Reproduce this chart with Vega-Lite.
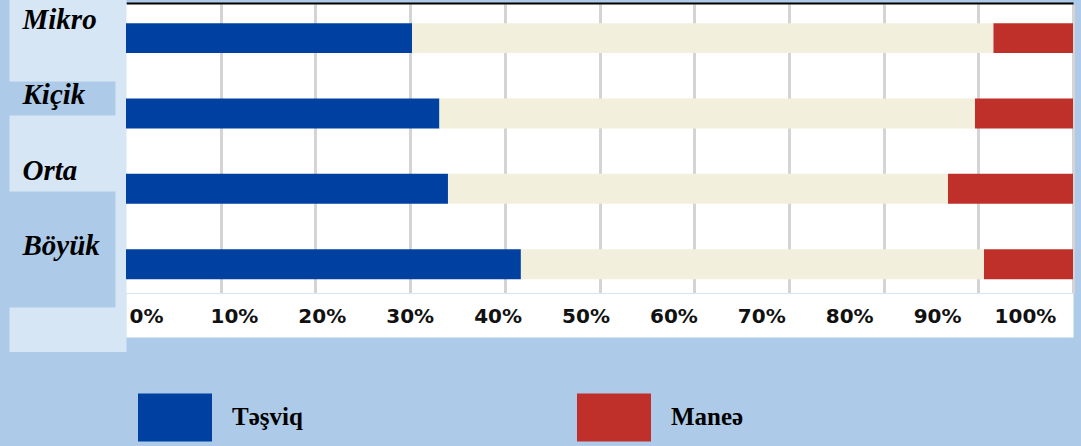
{
  "$schema": "https://vega.github.io/schema/vega-lite/v6.json",
  "width": 947,
  "height": 289,
  "autosize": {"type": "none"},
  "padding": {"left": 126, "top": 4, "right": 8, "bottom": 153},
  "background": "#adcbe8",
  "config": {"view": {"fill": "white", "stroke": null}},
  "data": {
    "values": [
      {"size": "Mikro", "kind": "Təşviq", "share": 30.2},
      {"size": "Mikro", "kind": "Neytral", "share": 61.4},
      {"size": "Mikro", "kind": "Maneə", "share": 8.4},
      {"size": "Kiçik", "kind": "Təşviq", "share": 33.1},
      {"size": "Kiçik", "kind": "Neytral", "share": 56.55},
      {"size": "Kiçik", "kind": "Maneə", "share": 10.35},
      {"size": "Orta", "kind": "Təşviq", "share": 34.0},
      {"size": "Orta", "kind": "Neytral", "share": 52.8},
      {"size": "Orta", "kind": "Maneə", "share": 13.2},
      {"size": "Böyük", "kind": "Təşviq", "share": 41.7},
      {"size": "Böyük", "kind": "Neytral", "share": 48.9},
      {"size": "Böyük", "kind": "Maneə", "share": 9.4}
    ]
  },
  "layer": [
    {
      "mark": {"type": "bar"},
      "encoding": {
        "y": {
          "field": "size", "type": "nominal",
          "sort": ["Mikro", "Kiçik", "Orta", "Böyük"],
          "scale": {"paddingInner": 0.602, "paddingOuter": 0.219, "align": 0.58},
          "axis": {"orient": "left", "title": null, "labels": false, "ticks": false, "grid": false,
                   "domain": true, "domainColor": "#d6e6f5", "domainWidth": 117, "domainCap": "square",
                   "offset": 58.5}
        },
        "x": {
          "field": "share", "type": "quantitative", "stack": "zero",
          "scale": {"domain": [0, 100], "nice": false},
          "axis": {"orient": "top", "title": null, "labels": false, "ticks": false,
                   "grid": true, "gridColor": "#d4d4d4", "gridWidth": 3,
                   "values": [10, 20, 30, 40, 50, 60, 70, 80, 90, 100],
                   "domain": true, "domainColor": "black", "domainWidth": 2, "offset": 1}
        },
        "order": {"field": "kind", "sort": "descending"},
        "color": {
          "field": "kind", "type": "nominal",
          "sort": ["Təşviq", "Neytral", "Maneə"],
          "scale": {"domain": ["Təşviq", "Neytral", "Maneə"], "range": ["#0040a0", "#f2efdc", "#c0302a"]},
          "legend": {
            "values": ["Təşviq", "Maneə"], "title": null, "orient": "none",
            "legendX": 12, "legendY": 376, "direction": "horizontal",
            "symbolType": "M-1,-0.65L1,-0.65L1,0.65L-1,0.65Z", "symbolSize": 5476,
            "symbolStrokeWidth": 0, "symbolOpacity": 1,
            "labelFont": "Liberation Serif", "labelFontWeight": "bold", "labelFontSize": 25,
            "labelColor": "black", "labelOffset": 20, "columnPadding": 274, "labelLimit": 300
          }
        }
      }
    },
    {
      "mark": {"type": "bar", "opacity": 0},
      "encoding": {
        "y": {
          "field": "size", "type": "nominal",
          "sort": ["Mikro", "Kiçik", "Orta", "Böyük"],
          "scale": {"paddingInner": 0.602, "paddingOuter": 0.219, "align": 0.58},
          "axis": {"orient": "left", "title": null, "labels": false, "domain": false, "grid": false,
                   "ticks": true, "tickSize": 107, "offset": 11, "tickOffset": -15,
                   "tickColor": {"condition": {"test": "datum.value === 'Kiçik' || datum.value === 'Böyük'", "value": "#adcbe8"}, "value": "#d6e6f5"},
                   "tickWidth": {"condition": {"test": "datum.value === 'Böyük'", "value": 116}, "value": 34},
                   "tickOpacity": {"condition": {"test": "datum.value === 'Kiçik' || datum.value === 'Böyük'", "value": 1}, "value": 0},
                   "zindex": 1}
        },
        "x": {
          "field": "share", "type": "quantitative",
          "scale": {"domain": [0, 100], "nice": false},
          "axis": {"orient": "bottom", "title": null, "labels": false, "ticks": false, "grid": false,
                   "domain": true, "domainColor": "white", "domainWidth": 44, "offset": 22, "zindex": 1}
        }
      }
    },
    {
      "mark": {"type": "bar", "opacity": 0},
      "encoding": {
        "y": {
          "field": "size", "type": "nominal",
          "sort": ["Mikro", "Kiçik", "Orta", "Böyük"],
          "scale": {"paddingInner": 0.602, "paddingOuter": 0.219, "align": 0.58},
          "axis": {"orient": "left", "title": null, "domain": false, "ticks": false, "tickSize": 0, "grid": false,
                   "labelAlign": "left", "labelPadding": 104, "labelOffset": -9, "labelBaseline": "alphabetic",
                   "labelFont": "Liberation Serif", "labelFontSize": 29, "labelFontWeight": "bold",
                   "labelFontStyle": "italic", "labelColor": "black", "zindex": 2}
        },
        "x": {
          "field": "share", "type": "quantitative",
          "scale": {"domain": [-2.276, 105.46], "nice": false, "zero": false},
          "axis": {"orient": "bottom", "title": null,
                   "values": [0, 10, 20, 30, 40, 50, 60, 70, 80, 90, 100],
                   "labelExpr": "datum.value + '%'",
                   "grid": false, "ticks": false, "tickSize": 0, "domain": false,
                   "labelPadding": 13, "labelFont": "DejaVu Sans", "labelFontSize": 20,
                   "labelFontWeight": "bold", "labelColor": "#111111",
                   "labelFlush": false, "labelOverlap": false, "zindex": 2}
        }
      }
    }
  ],
  "resolve": {
    "scale": {"x": "independent", "y": "independent"},
    "axis": {"x": "independent", "y": "independent"}
  }
}
